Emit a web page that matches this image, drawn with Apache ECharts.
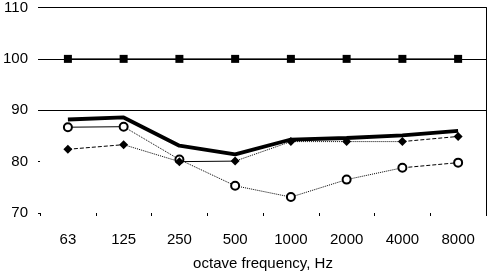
<!DOCTYPE html>
<html>
<head>
<meta charset="utf-8">
<script src="https://cdn.jsdelivr.net/npm/echarts@6/dist/echarts.min.js"></script>
<style>html,body{margin:0;padding:0;background:#fff}#c{width:487px;height:276px}</style>
</head>
<body>
<div id="c"></div>
<script>
var categories = ['63','125','250','500','1000','2000','4000','8000'];
var squareValues = [100,100,100,100,100,100,100,100];
var thickValues = [88.2,88.6,83.1,81.4,84.3,84.6,85.1,86.0];
var circleValues = [86.7,86.8,80.4,75.3,73.1,76.5,78.8,79.8];
var diamondValues = [82.4,83.3,80.0,80.1,83.9,83.9,83.9,84.9];
var circleSegStyles = ['solid','dotted','dotted','dotted','dotted','dotted','dashed'];
var diamondSegStyles = ['dashed','dotted','solid','dotted','dotted','dotted','dashed'];

function segSeries(vals, styles){
  var out = [];
  for (var i = 0; i < vals.length - 1; i++) {
    var d = vals.map(function(v, j){ return (j === i || j === i + 1) ? v : null; });
    out.push({type:'line', data:d, symbol:'none', silent:true, z:2,
      lineStyle:{color:'#000', width:1, type:styles[i]}});
  }
  return out;
}

var series = [
  {type:'line', data:squareValues, symbol:'rect', symbolSize:8,
   itemStyle:{color:'#000'}, lineStyle:{color:'#000', width:1}, z:3},
  {type:'line', data:thickValues, symbol:'none',
   lineStyle:{color:'#000', width:3.8}, z:4}
].concat(segSeries(circleValues, circleSegStyles))
 .concat(segSeries(diamondValues, diamondSegStyles))
 .concat([
  {type:'line', data:circleValues, symbol:'circle', symbolSize:8,
   itemStyle:{color:'#fff', borderColor:'#000', borderWidth:2},
   lineStyle:{width:0, opacity:0}, z:5},
  {type:'line', data:diamondValues, symbol:'diamond', symbolSize:9,
   itemStyle:{color:'#000'}, lineStyle:{width:0, opacity:0}, z:5}
]);

var font = 'Liberation Sans, Arial';
var chart = echarts.init(document.getElementById('c'), null, {renderer:'canvas'});
chart.setOption({
  animation:false,
  backgroundColor:'#fff',
  grid:{left:38, right:1, top:7, bottom:62},
  xAxis:{
    type:'category', data:categories, boundaryGap:true,
    axisLine:{show:false},
    axisTick:{show:true, length:3, lineStyle:{color:'#000'}},
    axisLabel:{color:'#000', fontFamily:font, fontSize:15, margin:19},
    name:'octave frequency, Hz', nameLocation:'middle', nameGap:43,
    nameTextStyle:{color:'#000', fontFamily:font, fontSize:15}
  },
  yAxis:[{
    type:'value', min:70, max:110, interval:10,
    axisLine:{show:false},
    axisTick:{show:true, length:2, lineStyle:{color:'#000'}},
    axisLabel:{color:'#000', fontFamily:font, fontSize:15, margin:12},
    splitLine:{show:true, lineStyle:{color:['rgba(0,0,0,0)','rgba(0,0,0,0)','#000','#000','#000'], width:1}}
  },{
    type:'value', min:70, max:110, interval:10, position:'right',
    axisLine:{show:true, lineStyle:{color:'#000', width:1}},
    axisTick:{show:false}, axisLabel:{show:false}, splitLine:{show:false}
  }],
  series:series
});
</script>
</body>
</html>
